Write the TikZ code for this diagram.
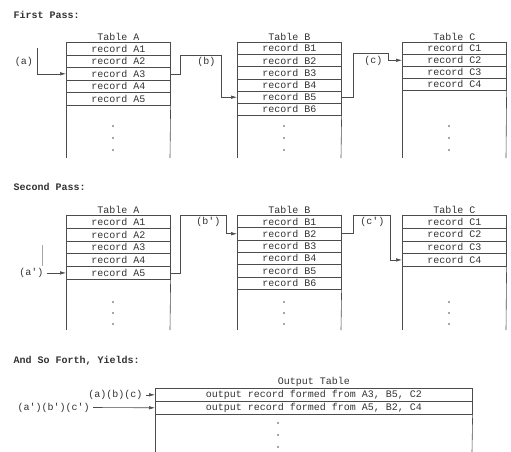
\documentclass[tikz,border=0pt]{standalone}
\usepackage{fontspec}
\setmonofont{Liberation Mono}
\usetikzlibrary{arrows.meta}

\begin{document}
\begin{tikzpicture}[x=1pt,y=-1pt,
    font=\ttfamily\fontsize{10}{12}\selectfont, text=black!80,
    ink/.style={draw=black!70, line width=0.6pt},
    rec/.style={ink, anchor=north west, inner sep=0pt, minimum width=104pt},
    ttl/.style={anchor=south, inner sep=1pt},
    head/.style={anchor=west, font=\ttfamily\bfseries\fontsize{10}{12}\selectfont},
    tip/.style={-{Latex[length=6pt,width=3.5pt]}}]
    \useasboundingbox (0,0) rectangle (511,452);
    % headings
    \node[head] (h1) at (10,15) {First Pass:};
    \node[head] (h2) at (10,187) {Second Pass:};
    \node[head] (h3) at (10,361) {And So Forth, Yields:};
    % first pass tables
    \foreach \tb/\xl/\nr/\rh in {A/66/5/12.6,B/237/6/12.2,C/402/4/12} {
      \foreach \i in {1,...,\nr}
        \node[rec, minimum height={\rh*1pt}] (p\tb\i) at (\xl,{42+\rh*(\i-1)}) {record \tb\i};
      \node[ttl] (pT\tb) at (p\tb1.north) {Table \tb};
      \draw[ink] (p\tb\nr.south west) -- (\xl,158);
      \draw[ink] (p\tb\nr.south east) -- ({\xl+104},158);
      \foreach \d in {126,138,150} \fill[black!70] ({\xl+47},\d) circle[radius=0.9pt];
    }
    % second pass tables
    \foreach \tb/\xl/\nr/\rh in {A/66/5/12.8,B/237/6/12.3,C/402/4/12.75} {
      \foreach \i in {1,...,\nr}
        \node[rec, minimum height={\rh*1pt}] (q\tb\i) at (\xl,{215+\rh*(\i-1)}) {record \tb\i};
      \node[ttl] (qT\tb) at (q\tb1.north) {Table \tb};
      \draw[ink] (q\tb\nr.south west) -- (\xl,330);
      \draw[ink] (q\tb\nr.south east) -- ({\xl+104},330);
      \foreach \d in {302,313,324} \fill[black!70] ({\xl+47},\d) circle[radius=0.9pt];
    }
    % first pass links
    \node (la) at (24,62) {(a)};
    \coordinate (aTop) at (37,48);
    \draw[ink, tip] (aTop) |- (pA3.west);
    \node[anchor=east] (lb) at (219,62) {(b)};
    \draw[ink, tip] (pA3.east) -- ++(10,0) |- (221,55) |- (pB5.west);
    \node[anchor=east] (lc) at (386,61) {(c)};
    \draw[ink, tip] (pB5.east) -- ++(12,0) |- (388,53) |- (pC2.west);
    % second pass links
    \node[anchor=east] (la2) at ([xshift=-19pt]qA5.west) {(a')};
    \draw[black!35] (42,245) -- (42,266);
    \draw[ink, tip] (la2.east) -- (qA5.west);
    \node[anchor=east] (lb2) at (224,222) {(b')};
    \draw[ink, tip] (qA5.east) -- ++(10,0) |- (226,215) |- (qB2.west);
    \node[anchor=east] (lc2) at (388,222) {(c')};
    \draw[ink, tip] (qB2.east) -- ++(12,0) |- (390,215) |- (qC4.west);
    % output table
    \node[rec, minimum width=317pt, minimum height=13pt] (o1) at (155,388) {output record formed from A3, B5, C2};
    \node[rec, minimum width=317pt, minimum height=13pt] (o2) at (155,401) {output record formed from A5, B2, C4};
    \node[ttl] (oT) at (o1.north) {Output Table};
    \draw[ink] (o2.south west) -- (155,452);
    \draw[ink] (o2.south east) -- (472,452);
    \foreach \d in {423,435,447} \fill[black!70] (278,\d) circle[radius=0.9pt];
    \node[anchor=east] (lo1) at ([xshift=-9pt]o1.west) {(a)(b)(c)};
    \draw[ink, tip] (lo1.east) -- (o1.west);
    \node[anchor=west] (lo2) at (14,407.5) {(a')(b')(c')};
    \draw[ink, tip] (lo2.east) -- (o2.west);
  \end{tikzpicture}
\end{document}
